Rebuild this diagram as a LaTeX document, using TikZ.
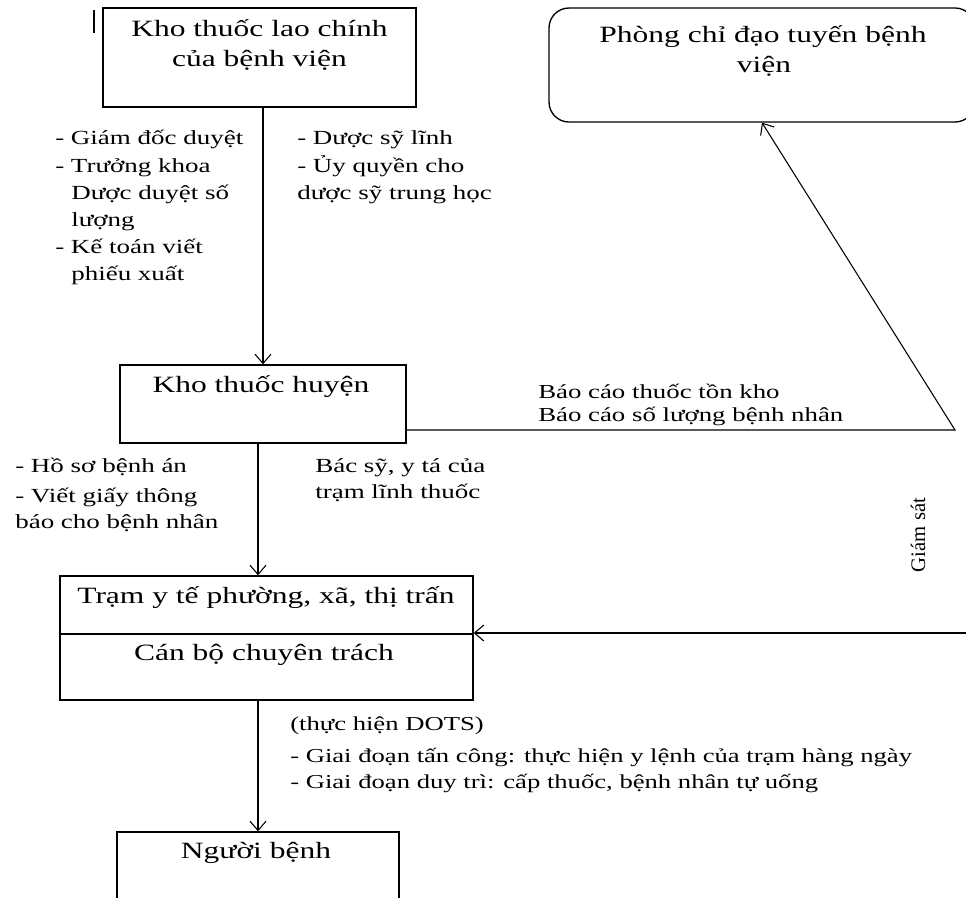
\documentclass[tikz,border=0pt]{standalone}
\usepackage{fontspec}
\setmainfont{Liberation Serif}[FakeStretch=1.35]
\newfontfamily\gsfont{Liberation Serif}
\usetikzlibrary{arrows.meta,calc}
\begin{document}
\begin{tikzpicture}[x=0.75pt,y=-0.75pt,
  boxline/.style={line width=1pt},
  box/.style={draw, boxline, inner sep=0pt},
  big/.style={font=\fontsize{17.5}{22}\selectfont, inner sep=0pt, anchor=base},
  lab/.style={font=\fontsize{15}{20}\selectfont, inner sep=0pt, anchor=base west},
  small/.style={font=\fontsize{14.9}{18}\selectfont, inner sep=0pt, anchor=base west},
  dots/.style={font=\fontsize{14.8}{18}\selectfont, inner sep=0pt, anchor=base west},
  conn/.style={line width=0.8pt},
  arr/.style={conn, -{Straight Barb[length=7pt,width=12pt]}}]
\path[use as bounding box, clip] (0,0) rectangle (966,897);
\fill[white] (0,0) rectangle (966,897);

% boxes
\node[box, minimum width=234.75pt, minimum height=74.25pt] (top) at (259.5,57.5) {};
\node[box, rounded corners=15pt, minimum width=319.5pt, minimum height=85.5pt] (phong) at (762,65) {};
\node[box, minimum width=214.5pt, minimum height=58.5pt] (huyen) at (263,404) {};
\node[box, minimum width=309.75pt, minimum height=93pt] (tram) at (266.5,638) {};
\node[box, minimum width=211.5pt, minimum height=58.5pt] (benh) at (258,871) {};

% cursor mark
\coordinate (c1) at (94,10);
\coordinate (c2) at (94,33);
\draw[conn] (c1) -- (c2);

% box texts
\node[big] (t1) at (259.5,36) {Kho thuốc lao chính};
\node[big] (t2) at (259.5,66) {của bệnh viện};
\node[big] (p1) at (763,42) {Phòng chỉ đạo tuyến bệnh};
\node[big] (p2) at (764,72) {viện};
\node[big] (h1) at (261,392) {Kho thuốc huyện};
\node[big] (r1) at (266,603) {Trạm y tế phường, xã, thị trấn};
\node[big] (r2) at (264,660) {Cán bộ chuyên trách};
\node[big] (n1) at (256,858) {Người bệnh};

% divider in tram
\coordinate (dv) at (0,634);
\draw[boxline] (dv -| tram.west) -- (dv -| tram.east);

% labels top
\node[lab] (a1) at (55,144) {- Giám đốc duyệt};
\node[lab] (a2) at (55,172) {- Trưởng khoa};
\node[lab] (a3) at (71,199) {Dược duyệt số};
\node[lab] (a4) at (71,226) {lượng};
\node[lab] (a5) at (55,253) {- Kế toán viết};
\node[lab] (a6) at (71,280) {phiếu xuất};
\node[lab] (b1) at (297,144) {- Dược sỹ lĩnh};
\node[lab] (b2) at (297,172) {- Ủy quyền cho};
\node[lab] (b3) at (297,199) {dược sỹ trung học};

% report labels
\node[small] (c3) at (538,398) {Báo cáo thuốc tồn kho};
\node[small] (c4) at (538,421) {Báo cáo số lượng bệnh nhân};

% middle labels
\node[lab] (d1) at (15,472) {- Hồ sơ bệnh án};
\node[lab] (d2) at (15,502) {- Viết giấy thông};
\node[lab] (d3) at (15,528) {báo cho bệnh nhân};
\node[lab] (e1) at (315,472) {Bác sỹ, y tá của};
\node[lab] (e2) at (315,498) {trạm lĩnh thuốc};

% DOTS labels
\node[dots] (f1) at (290,730) {(thực hiện DOTS)};
\node[dots] (f2) at (290,762) {- Giai đoạn tấn công: thực hiện y lệnh của trạm hàng ngày};
\node[dots] (f3) at (290,788) {- Giai đoạn duy trì: cấp thuốc, bệnh nhân tự uống};

% Giam sat
\node[rotate=90, inner sep=0pt, font=\gsfont\fontsize{15.5}{18}\selectfont] (gs) at (918,535) {Giám sát};

% connectors
\draw[arr] (huyen.north |- top.south) -- (huyen.north);
\draw[arr] (benh.north |- huyen.south) -- (benh.north |- tram.north);
\draw[arr] (benh.north |- tram.south) -- (benh.north);
\coordinate (rc) at (955,430);
\draw[arr] (rc -| huyen.east) -- (rc) -- (phong.south);
\coordinate (ge) at (966,633);
\draw[arr] (ge) -- (ge -| tram.east);
\end{tikzpicture}
\end{document}
